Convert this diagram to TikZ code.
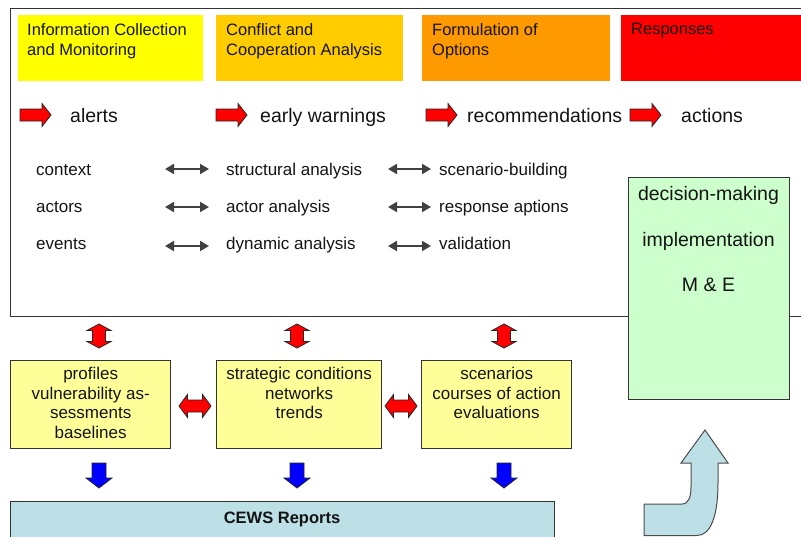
\documentclass[tikz,border=0pt]{standalone}
\usepackage{fontspec}
\setmainfont{Liberation Sans}
\usetikzlibrary{arrows.meta,calc}
\definecolor{hyel}{RGB}{255,255,0}
\definecolor{hgold}{RGB}{255,204,0}
\definecolor{horange}{RGB}{255,153,0}
\definecolor{hred}{RGB}{255,0,0}
\definecolor{lyel}{RGB}{255,255,153}
\definecolor{lgreen}{RGB}{204,255,204}
\definecolor{lblue}{RGB}{188,224,229}
\definecolor{edgegray}{RGB}{51,51,51}
\definecolor{txt}{RGB}{20,20,20}
\tikzset{
  boxedge/.style={draw=edgegray, line width=1.3pt},
  hdrbox/.style={rectangle, inner sep=0pt, anchor=north west},
  hdrtext/.style={anchor=north west, inner sep=0pt, align=left, text=txt, font=\fontsize{16.5}{20}\selectfont},
  rowtext/.style={anchor=base west, inner sep=0pt, text=txt, font=\fontsize{19.5}{22}\selectfont},
  midtext/.style={anchor=base west, inner sep=0pt, text=txt, font=\fontsize{17}{20}\selectfont},
  boxtext/.style={anchor=north, inner sep=0pt, align=center, text=txt, font=\fontsize{17}{19.5}\selectfont},
  greentext/.style={anchor=base, inner sep=0pt, text=txt, font=\fontsize{19.5}{22}\selectfont},
  ybox/.style={boxedge, fill=lyel, rectangle, inner sep=0pt, anchor=north west},
  blockedge/.style={draw=black!85, line width=0.8pt, line join=miter},
  dblarrow/.style={{Triangle[length=9pt,width=10pt]}-{Triangle[length=9pt,width=10pt]}, draw=black!75, line width=1.8pt},
  rarrow/.pic={\draw[blockedge, fill=hred] (0,-6)--(22,-6)--(22,-11.5)--(31,0)--(22,11.5)--(22,6)--(0,6)--cycle;},
  vdbl/.pic={\draw[blockedge, fill=hred] (0,-12)--(12,-5.5)--(6.5,-5.5)--(6.5,5.5)--(12,5.5)--(0,12)--(-12,5.5)--(-6.5,5.5)--(-6.5,-5.5)--(-12,-5.5)--cycle;},
  hdbl/.pic={\draw[blockedge, fill=hred] (-16,0)--(-7.5,-11.5)--(-7.5,-6)--(7.5,-6)--(7.5,-11.5)--(16,0)--(7.5,11.5)--(7.5,6)--(-7.5,6)--(-7.5,11.5)--cycle;},
  darrow/.pic={\draw[blockedge, fill=blue] (-7,-12.5)--(7,-12.5)--(7,2.5)--(13,2.5)--(0,12.5)--(-13,2.5)--(-7,2.5)--cycle;}
}
\begin{document}
\begin{tikzpicture}[x=1pt,y=-1pt]
\useasboundingbox (0,0) rectangle (801,536);
\clip (0,0) rectangle (801,536);
\fill[white] (0,0) rectangle (801,536);

% main frame
\node[boxedge, rectangle, inner sep=0pt, anchor=north west, minimum width=820pt, minimum height=308pt] (frame) at (10,8) {};

% header boxes
\node[hdrbox, fill=hyel, minimum width=185pt, minimum height=66pt] (h1) at (18,15) {};
\node[hdrbox, fill=hgold, minimum width=187pt, minimum height=66pt] (h2) at (216,15) {};
\node[hdrbox, fill=horange, minimum width=188pt, minimum height=66pt] (h3) at (422,15) {};
\node[hdrbox, fill=hred, minimum width=200pt, minimum height=66pt] (h4) at (621,15) {};
\node[hdrtext] (t1) at (27,23) {Information Collection\\and Monitoring};
\node[hdrtext] (t2) at (226,23) {Conflict and\\Cooperation Analysis};
\node[hdrtext] (t3) at (432,23) {Formulation of\\Options};
\node[hdrtext] (t4) at (631,23) {Responses};

% red arrows row
\pic at (20,115) {rarrow};
\pic at (216,115) {rarrow};
\pic at (426,115) {rarrow};
\pic at (630,115) {rarrow};
\node[rowtext] (alerts) at (70,122) {alerts};
\node[rowtext] (ew) at (260,122) {early warnings};
\node[rowtext] (rec) at (467,122) {recommendations};
\node[rowtext] (act) at (681,122) {actions};

% three columns
\node[midtext] (c1) at (36,175) {context};
\node[midtext] (c2) at (36,212) {actors};
\node[midtext] (c3) at (36,249) {events};
\node[midtext] (s1) at (226,175) {structural analysis};
\node[midtext] (s2) at (226,212) {actor analysis};
\node[midtext] (s3) at (226,249) {dynamic analysis};
\node[midtext] (r1) at (439,175) {scenario-building};
\node[midtext] (r2) at (439,212) {response aptions};
\node[midtext] (r3) at (439,249) {validation};

\coordinate (a1l) at (165,169); \coordinate (a1r) at (209,169);
\coordinate (a2l) at (165,207); \coordinate (a2r) at (209,207);
\coordinate (a3l) at (165,246); \coordinate (a3r) at (209,246);
\coordinate (b1l) at (388,169); \coordinate (b1r) at (431,169);
\coordinate (b2l) at (388,207); \coordinate (b2r) at (431,207);
\coordinate (b3l) at (388,246); \coordinate (b3r) at (431,246);
\draw[dblarrow] (a1l) -- (a1r);
\draw[dblarrow] (a2l) -- (a2r);
\draw[dblarrow] (a3l) -- (a3r);
\draw[dblarrow] (b1l) -- (b1r);
\draw[dblarrow] (b2l) -- (b2r);
\draw[dblarrow] (b3l) -- (b3r);

% green box
\node[boxedge, fill=lgreen, rectangle, inner sep=0pt, anchor=north west, minimum width=161pt, minimum height=222pt] (green) at (628,177) {};
\node[greentext] (g1) at (708.5,200) {decision-making};
\node[greentext] (g2) at (708.5,246) {implementation};
\node[greentext] (g3) at (708.5,291) {M \& E};

% red vertical double arrows
\pic at (99,336) {vdbl};
\pic at (297,336) {vdbl};
\pic at (504,336) {vdbl};

% yellow boxes
\node[ybox, minimum width=160pt, minimum height=88pt] (y1) at (10,360) {};
\node[ybox, minimum width=165pt, minimum height=88pt] (y2) at (216,360) {};
\node[ybox, minimum width=150pt, minimum height=88pt] (y3) at (421,360) {};
\node[boxtext] (y1t) at ($(y1.north)+(0,7)$) {profiles\\vulnerability as-\\sessments\\baselines};
\node[boxtext] (y2t) at ($(y2.north)+(0,7)$) {strategic conditions\\networks\\trends};
\node[boxtext] (y3t) at ($(y3.north)+(0,7)$) {scenarios\\courses of action\\evaluations};

% horizontal red double arrows
\pic at (195,406) {hdbl};
\pic at (401,406) {hdbl};

% blue down arrows
\pic at (99,475.5) {darrow};
\pic at (297,475.5) {darrow};
\pic at (504,475.5) {darrow};

% CEWS reports
\node[boxedge, fill=lblue, rectangle, inner sep=0pt, anchor=north west, minimum width=544pt, minimum height=60pt] (cews) at (10,501) {};
\node[anchor=base, inner sep=0pt, text=txt, font=\bfseries\fontsize{16.5}{20}\selectfont] (cewst) at (282,523) {CEWS Reports};

% curved arrow
\draw[draw=black!70, line width=1pt, fill=lblue, line join=miter]
  (644,504) -- (682,504) .. controls (689,504) and (691,496) .. (691,487)
  -- (691,463) -- (681,463) -- (705,430) -- (728,463) -- (718,463) -- (718,483)
  .. controls (718,515) and (711,535.5) .. (697,535.5) -- (644,535.5) -- cycle;
\end{tikzpicture}
\end{document}
